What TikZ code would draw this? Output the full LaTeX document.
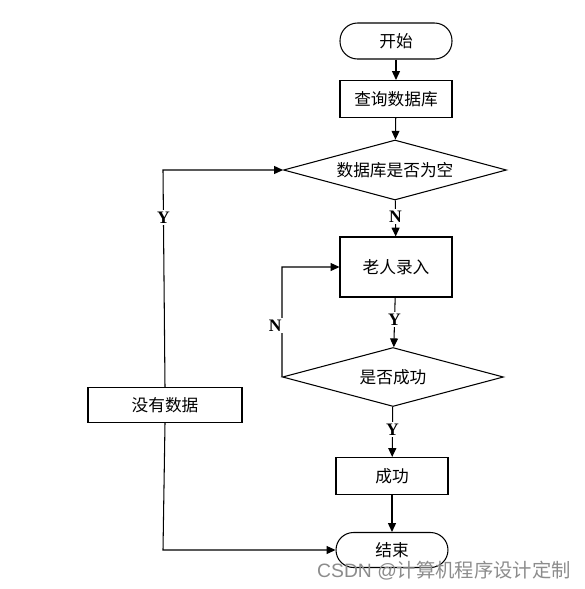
\documentclass[tikz,border=0pt]{standalone}
\usepackage{fontspec}
\setmainfont{Liberation Serif}
\newfontfamily\cjk{Noto Sans CJK SC}
\usetikzlibrary{shapes.geometric,arrows.meta}
\begin{document}
\begin{tikzpicture}[x=0.02cm,y=-0.02cm,
    line width=0.6pt,
    >={Triangle[length=5pt,width=4.5pt]},
    term/.style={draw,rectangle,rounded corners=0.35cm,font=\cjk\fontsize{9.5}{11}\selectfont,minimum width=2.24cm,minimum height=0.72cm},
    proc/.style={draw,rectangle,font=\cjk\fontsize{9.5}{11}\selectfont,minimum width=2.24cm,minimum height=0.74cm},
    decide/.style={draw,diamond,aspect=3.7,font=\cjk\fontsize{9.5}{11}\selectfont,minimum width=4.46cm,minimum height=1.2cm,inner sep=0pt},
    yn/.style={font=\bfseries\fontsize{10}{12}\selectfont,fill=white,inner sep=1pt}]
    \useasboundingbox (0,0) rectangle (585,589);
    \node[term] (start) at (396,41) {开始};
    \node[proc] (query) at (396,99) {查询数据库};
    \node[decide] (empty) at (395,170) {数据库是否为空};
    \node[proc,minimum height=1.2cm] (input) at (396,267) {老人录入};
    \node[decide,minimum width=4.42cm,minimum height=1.18cm] (ok) at (393,377) {是否成功};
    \node[proc] (done) at (392,476) {成功};
    \node[term,minimum height=0.7cm] (end) at (392,550) {结束};
    \node[proc,minimum width=3.08cm,minimum height=0.7cm] (nodata) at (165,405) {没有数据};
    \coordinate (c1) at (163,170); \coordinate (c2) at (163,550);
    \coordinate (c3) at (282,267);
    \draw[->] (start)--(query); \draw[->] (query)--(empty);
    \draw[->] (empty)--(input) node[yn,pos=0.45] {N};
    \draw[->] (input)--(ok) node[yn,pos=0.45] {Y};
    \draw[->] (ok)--(done) node[yn,pos=0.45] {Y};
    \draw[->] (done)--(end);
    \draw[->] (ok.west)--(c3) node[yn,pos=0.47,left=-1pt] {N} --(input.west);
    \draw[->] (nodata.north)--(c1) node[yn,pos=0.78] {Y} --(empty.west);
    \draw[->] (nodata.south)--(c2)--(end.west);
    \node[text=black!45,font=\fontspec{Liberation Sans}\fontsize{11}{13}\selectfont] (mark) at (444,571) {CSDN @{\cjk 计算机程序设计定制}};
\end{tikzpicture}
\end{document}
